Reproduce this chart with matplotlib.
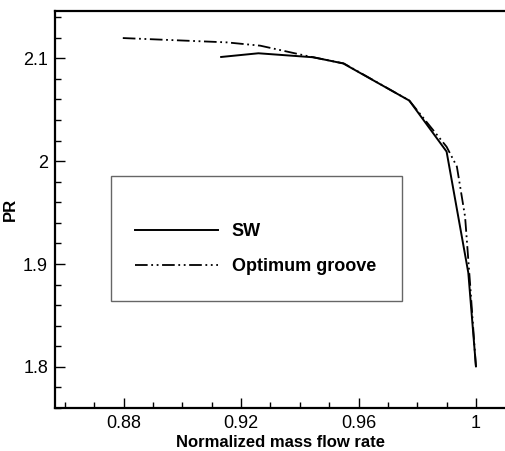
import matplotlib
matplotlib.use("Agg")
import matplotlib.pyplot as plt
from matplotlib.patches import Rectangle
from matplotlib.ticker import MultipleLocator

plt.rcParams['font.family'] = ['Liberation Sans', 'DejaVu Sans']

# Data
sw_flow = [0.9132, 0.9259, 0.9446, 0.9548, 0.9773, 0.9900, 0.9974, 1.0000]
sw_pr = [2.1013, 2.1049, 2.1010, 2.0950, 2.0589, 2.0093, 1.8915, 1.8005]

opt_flow = [0.8797, 0.9151, 0.9265, 0.9435, 0.9550, 0.9773, 0.9900, 0.9935, 0.9963, 0.9980, 1.0000]
opt_pr = [2.1197, 2.1155, 2.1123, 2.1016, 2.0950, 2.0589, 2.0140, 1.9948, 1.9460, 1.8810, 1.8000]

x_ticks = [0.88, 0.92, 0.96, 1.0]
x_tick_labels = ['0.88', '0.92', '0.96', '1']
y_ticks = [1.8, 1.9, 2.0, 2.1]
y_tick_labels = ['1.8', '1.9', '2', '2.1']

fig = plt.figure(figsize=(5.05, 4.51), dpi=100)
ax = fig.add_axes([55 / 505, 1 - 408 / 451, 450 / 505, 397 / 451])

ax.plot(sw_flow, sw_pr, color='black', linewidth=1.4, label='SW')
ax.plot(opt_flow, opt_pr, color='black', linewidth=1.3,
        dashes=(7, 2, 1, 2, 1, 2), label='Optimum groove')

ax.set_xlim(0.8566, 1.0099)
ax.set_ylim(1.760, 2.146)

ax.set_xticks(x_ticks)
ax.set_xticklabels(x_tick_labels)
ax.set_yticks(y_ticks)
ax.set_yticklabels(y_tick_labels)
ax.xaxis.set_minor_locator(MultipleLocator(0.01))
ax.yaxis.set_minor_locator(MultipleLocator(0.02))
ax.tick_params(which='both', direction='in', top=False, right=False,
               labelsize=13, width=1.0)
ax.tick_params(which='major', length=7, pad=5)
ax.tick_params(which='minor', length=4)

for side in ['left', 'bottom', 'top']:
    ax.spines[side].set_linewidth(1.6)
ax.spines['right'].set_visible(False)

ax.set_xlabel('Normalized mass flow rate', fontsize=12, fontweight='bold', labelpad=2)
ax.set_ylabel('PR', fontsize=12, fontweight='bold', labelpad=4)

# legend box
ax.add_patch(Rectangle((0.1244, 0.2695), 0.646, 0.3155, transform=ax.transAxes,
                       fill=False, edgecolor='#666666', linewidth=1.0, zorder=3))
ax.legend(loc='center left', bbox_to_anchor=(0.1778, 0.4005), frameon=False,
          borderpad=0, borderaxespad=0, handlelength=4.6, handletextpad=0.75,
          labelspacing=1.0, prop={'size': 13, 'weight': 'bold'})

fig.savefig('out.png', dpi=100)
